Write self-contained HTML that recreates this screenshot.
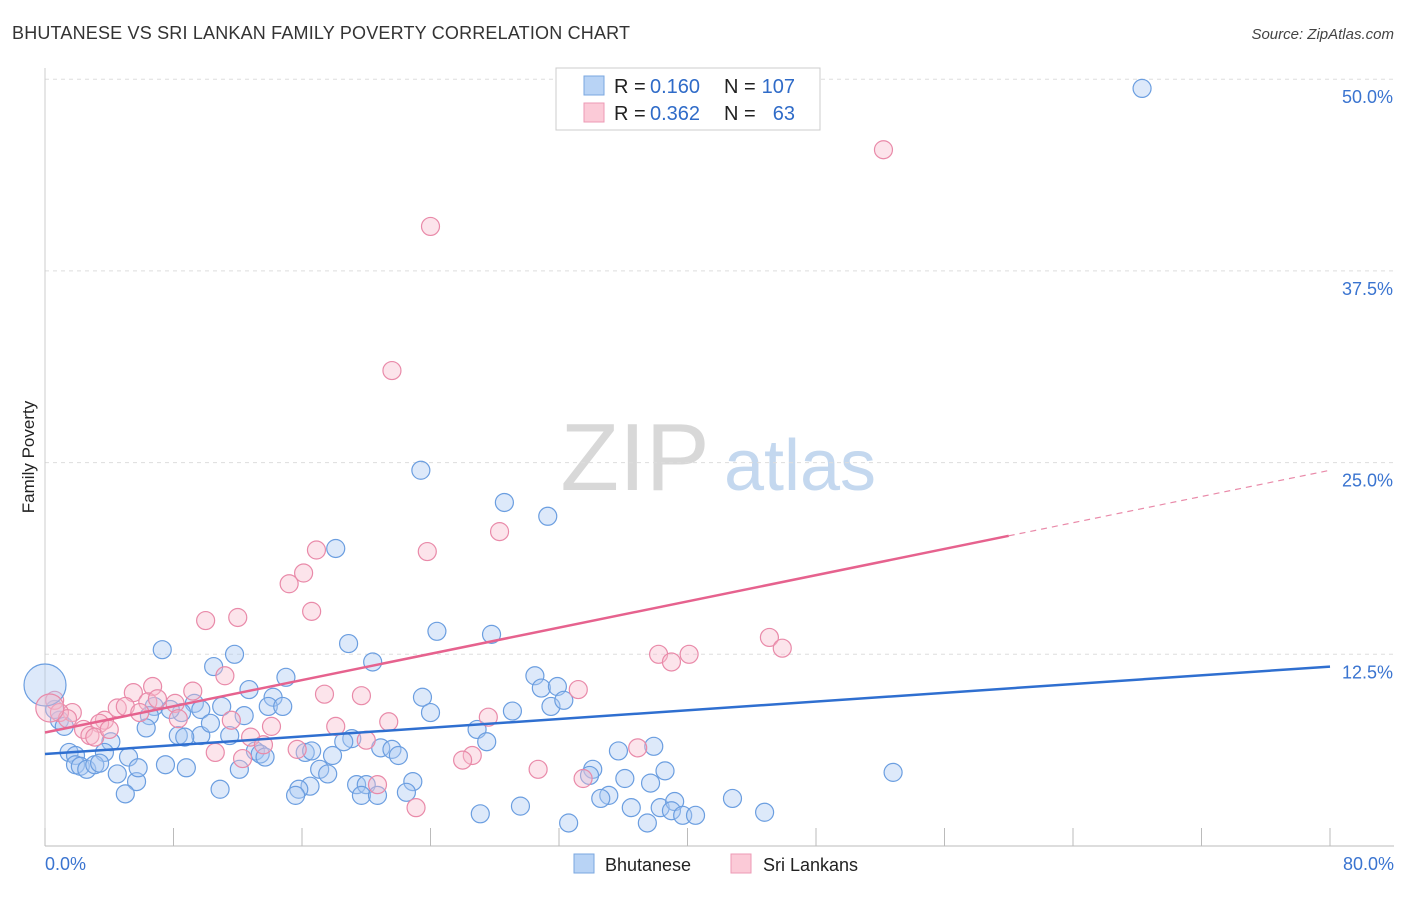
<!DOCTYPE html>
<html><head><meta charset="utf-8"><style>
body{margin:0;background:#fff;font-family:"Liberation Sans",sans-serif;}
svg text{font-family:"Liberation Sans",sans-serif;}
</style></head><body>
<svg id="chart" width="1406" height="892" viewBox="0 0 1406 892" xmlns="http://www.w3.org/2000/svg">
<text x="12" y="39" font-size="18" fill="#333" textLength="618">BHUTANESE VS SRI LANKAN FAMILY POVERTY CORRELATION CHART</text>
<text x="1394" y="39" font-size="15" fill="#444" text-anchor="end" font-style="italic">Source: ZipAtlas.com</text>
<text transform="translate(34,457) rotate(-90)" font-size="17" fill="#222" text-anchor="middle">Family Poverty</text>
<g>
<text x="635" y="490" font-size="96" fill="#d8d8d8" text-anchor="middle" font-family="Liberation Serif,serif">ZIP</text>
<text x="800" y="490" font-size="72" fill="#c4d8ef" text-anchor="middle">atlas</text>
</g>
<g id="grid"></g>
<g id="axes"></g>
<g id="marks"></g>
<g>
<rect x="556" y="68" width="264" height="62" fill="#fff" stroke="#ccc"/>
<rect x="584" y="76" width="20" height="19" fill="#b8d3f5" stroke="#7aa7e0"/>
<rect x="584" y="103" width="20" height="19" fill="#fbcad7" stroke="#ec9ab4"/>
<text x="614" y="93" font-size="20" fill="#222">R =</text>
<text x="650" y="93" font-size="20" fill="#2f6bc8">0.160</text>
<text x="724" y="93" font-size="20" fill="#222">N =</text>
<text x="795" y="93" font-size="20" fill="#2f6bc8" text-anchor="end">107</text>
<text x="614" y="120" font-size="20" fill="#222">R =</text>
<text x="650" y="120" font-size="20" fill="#2f6bc8">0.362</text>
<text x="724" y="120" font-size="20" fill="#222">N =</text>
<text x="795" y="120" font-size="20" fill="#2f6bc8" text-anchor="end">63</text>
</g>
<g>
<rect x="574" y="854" width="20" height="19" fill="#b8d3f5" stroke="#7aa7e0"/>
<text x="605" y="871" font-size="18" fill="#222">Bhutanese</text>
<rect x="731" y="854" width="20" height="19" fill="#fbcad7" stroke="#ec9ab4"/>
<text x="763" y="871" font-size="18" fill="#222">Sri Lankans</text>
</g>
</svg>
<script>
const yTicks=[12.5,25.0,37.5,50.0];
const xTickCount=[0,8,16,24,32,40,48,56,64,72,80];
const xLabels=["0.0%","80.0%"];
const blueX=[68.3,23.4,28.6,31.3,18.1,24.4,27.8,18.9,7.3,11.8,10.5,20.4,15.0,30.5,30.9,31.9,12.7,14.2,23.5,31.5,32.3,13.9,14.8,11.0,9.3,9.7,24.0,29.1,12.4,6.8,6.5,8.5,7.8,0.9,1.2,6.3,8.3,9.7,11.5,8.7,10.3,26.9,27.5,19.1,18.6,4.1,13.1,13.4,13.7,16.2,16.6,17.9,20.9,21.6,22.0,37.9,35.7,1.5,1.9,1.9,3.7,2.2,2.6,3.1,3.4,5.2,7.5,8.8,12.1,17.1,17.6,4.5,5.7,5.8,34.1,33.9,38.6,36.1,37.7,52.8,22.9,19.4,20.0,16.5,15.8,10.9,22.5,5.0,19.7,20.7,15.6,35.1,34.6,42.8,36.5,38.3,39.2,39.0,39.7,40.5,29.6,27.1,44.8,32.6,37.5,0.6];
const blueY=[49.4,24.5,22.4,21.5,19.4,14.0,13.8,13.2,12.8,12.5,11.7,12.0,11.0,11.1,10.3,10.4,10.2,9.7,9.7,9.1,9.5,9.1,9.1,9.1,9.3,8.9,8.7,8.8,8.5,9.1,8.5,8.7,8.9,8.2,7.8,7.7,7.2,7.2,7.2,7.1,8.0,7.6,6.8,7.0,6.8,6.8,6.2,6.0,5.8,6.1,6.2,5.9,6.4,6.3,5.9,6.5,6.2,6.1,5.9,5.3,6.1,5.2,5.0,5.3,5.4,5.8,5.3,5.1,5.0,5.0,4.7,4.7,4.2,5.1,5.0,4.6,4.9,4.4,4.1,4.8,4.2,4.0,4.0,3.9,3.7,3.7,3.5,3.4,3.3,3.3,3.3,3.3,3.1,3.1,2.5,2.5,2.9,2.3,2.0,2.0,2.6,2.1,2.2,1.5,1.5,8.9];
const pinkX=[52.2,24.0,21.6,28.3,23.8,16.9,16.1,15.2,16.6,10.0,12.0,45.1,45.9,38.2,40.1,39.0,11.2,6.7,5.5,9.2,17.4,19.7,33.2,6.4,7.0,8.1,4.5,5.0,1.7,5.9,8.3,3.7,3.4,11.6,21.4,27.6,18.1,14.1,2.4,2.8,3.1,4.0,12.8,13.6,20.0,10.6,15.7,12.3,26.6,26.0,36.9,33.5,30.7,20.7,23.1,0.6,0.9,1.4];
const pinkY=[45.4,40.4,31.0,20.5,19.2,19.3,17.8,17.1,15.3,14.7,14.9,13.6,12.9,12.5,12.5,12.0,11.1,10.4,10.0,10.1,9.9,9.8,10.2,9.4,9.6,9.3,9.0,9.1,8.7,8.7,8.3,8.2,8.0,8.2,8.1,8.4,7.8,7.8,7.6,7.2,7.1,7.6,7.1,6.6,6.9,6.1,6.3,5.7,5.9,5.6,6.4,4.4,5.0,4.0,2.5,9.5,8.7,8.3];
const bigBlue=[0.0,10.5];
const bigPink=[0.3,9.0];
const blueTrend=[6.0,11.7];
const pinkTrend=[7.4,24.5];
const pinkSolidEnd=60;

const X0=45,X1=1330,Y0=846,YPER=191.7/12.5;
const sx=v=>X0+(v/80)*(X1-X0);
const sy=v=>Y0-v*YPER;
const NS="http://www.w3.org/2000/svg";
function mk(tag,attrs,parent){const e=document.createElementNS(NS,tag);for(const k in attrs)e.setAttribute(k,attrs[k]);parent.appendChild(e);return e;}
const grid=document.getElementById('grid'),axes=document.getElementById('axes'),marks=document.getElementById('marks');
yTicks.forEach(t=>{
  const l=mk('line',{x1:45,x2:1394,y1:sy(t),y2:sy(t),stroke:'#ddd','stroke-dasharray':'4,4'},grid);
  
  
  const tx=mk('text',{x:1393,y:sy(t)+24,'font-size':18,fill:'#3a74d0','text-anchor':'end'},axes);
  tx.textContent=t.toFixed(1)+'%';
  
  
});
const ax=mk('line',{x1:45,x2:1394,y1:Y0,y2:Y0,stroke:'#bbb'},axes);


const ay=mk('line',{x1:45,x2:45,y1:68,y2:Y0,stroke:'#ccc'},axes);


xTickCount.forEach(t=>{
  const l=mk('line',{x1:sx(t),x2:sx(t),y1:828,y2:Y0,stroke:'#bbb'},axes);
  
  
});
const xl0=mk('text',{x:45,y:870,'font-size':18,fill:'#3a74d0'},axes);xl0.textContent=xLabels[0];


const xl1=mk('text',{x:1394,y:870,'font-size':18,fill:'#3a74d0','text-anchor':'end'},axes);xl1.textContent=xLabels[1];



function dot(x,y,r,fill,stroke,name){
  const c=mk('circle',{cx:sx(x),cy:sy(y),r:r,fill:fill,'fill-opacity':0.4,stroke:stroke,'stroke-width':1.2},marks);
  
  
}
blueX.forEach((x,i)=>dot(x,blueY[i],9,'#a9c8f2','#6b9ee0','bhutanese-point'));
pinkX.forEach((x,i)=>dot(x,pinkY[i],9,'#f8bccd','#e98aa9','srilankan-point'));
dot(bigBlue[0],bigBlue[1],21,'#a9c8f2','#6b9ee0','bhutanese-point-large');
dot(bigPink[0],bigPink[1],14,'#f8bccd','#e98aa9','srilankan-point-large');
const bt=mk('line',{x1:sx(0),y1:sy(blueTrend[0]),x2:sx(80),y2:sy(blueTrend[1]),stroke:'#2f6fd0','stroke-width':2.5},marks);


const pe=pinkTrend[0]+(pinkTrend[1]-pinkTrend[0])*pinkSolidEnd/80;
const pt=mk('line',{x1:sx(0),y1:sy(pinkTrend[0]),x2:sx(pinkSolidEnd),y2:sy(pe),stroke:'#e6628e','stroke-width':2.5},marks);


const pd=mk('line',{x1:sx(pinkSolidEnd),y1:sy(pe),x2:sx(80),y2:sy(pinkTrend[1]),stroke:'#e98aa9','stroke-width':1.2,'stroke-dasharray':'6,5'},marks);


</script>
</body></html>
